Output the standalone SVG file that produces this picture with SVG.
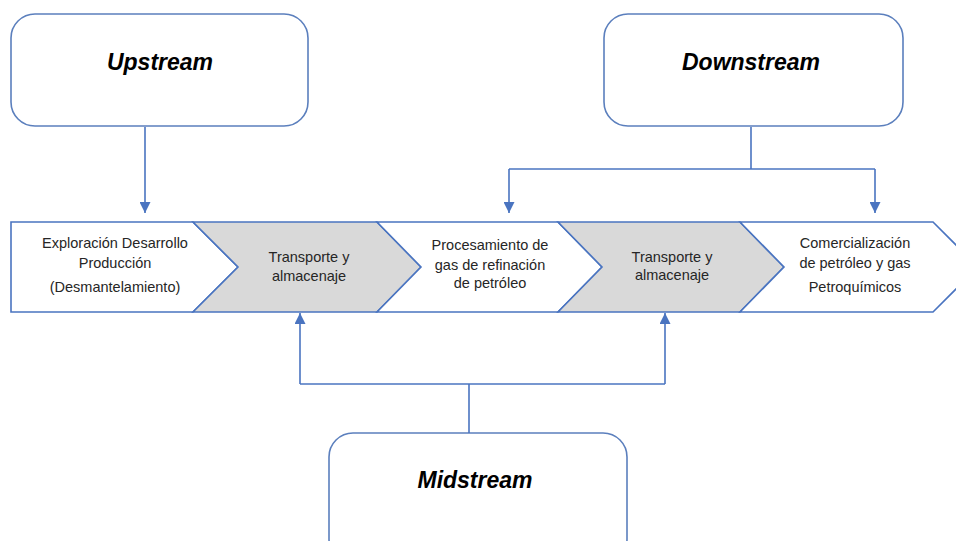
<svg xmlns="http://www.w3.org/2000/svg" width="956" height="541" viewBox="0 0 956 541">
<style>
.box{fill:#fff;stroke:#5b7fbd;stroke-width:1.6}
.title{font-family:"Liberation Sans",Arial,sans-serif;font-weight:bold;font-style:italic;font-size:23px;fill:#000;text-anchor:middle}
.seg{stroke:#4a74c0;stroke-width:1.6;stroke-linejoin:miter}
.w{fill:#fff}
.g{fill:#d9d9d9}
.lbl{font-family:"Liberation Sans",Arial,sans-serif;font-size:14.5px;fill:#262626;text-anchor:middle}
.conn{fill:none;stroke:#4a74c0;stroke-width:1.6}
</style>
<defs>
<marker id="ah" viewBox="0 0 10 10" refX="10" refY="5" markerWidth="11" markerHeight="11" markerUnits="userSpaceOnUse" orient="auto">
<path d="M0,0 L10,5 L0,10 Z" fill="#4a74c0"/>
</marker>
</defs>
<rect width="956" height="541" fill="#fff"/>

<g id="upstream">
<rect class="box" x="11" y="14" width="297" height="112" rx="24"/>
<text class="title" x="160" y="70">Upstream</text>
</g>
<g id="downstream">
<rect class="box" x="604" y="14" width="299" height="112" rx="24"/>
<text class="title" x="751" y="70">Downstream</text>
</g>
<g id="midstream">
<rect class="box" x="329" y="433" width="298" height="130" rx="24"/>
<text class="title" x="475" y="488">Midstream</text>
</g>

<g id="step1">
<path class="seg w" d="M11,222 L193,222 L238,267 L193,312 L11,312 Z"/>
<text class="lbl" x="115" y="248">Exploración Desarrollo</text>
<text class="lbl" x="115" y="268">Producción</text>
<text class="lbl" x="115" y="292">(Desmantelamiento)</text>
</g>
<g id="step2">
<path class="seg g" d="M193,222 L377,222 L421,267 L377,312 L193,312 L238,267 Z"/>
<text class="lbl" x="309" y="262">Transporte y</text>
<text class="lbl" x="309" y="281">almacenaje</text>
</g>
<g id="step3">
<path class="seg w" d="M377,222 L558,222 L602,267 L558,312 L377,312 L421,267 Z"/>
<text class="lbl" x="490" y="250">Procesamiento de</text>
<text class="lbl" x="490" y="270">gas de refinación</text>
<text class="lbl" x="490" y="288">de petróleo</text>
</g>
<g id="step4">
<path class="seg g" d="M558,222 L740,222 L784,267 L740,312 L558,312 L602,267 Z"/>
<text class="lbl" x="672" y="262">Transporte y</text>
<text class="lbl" x="672" y="280">almacenaje</text>
</g>
<g id="step5">
<path class="seg w" d="M740,222 L933,222 L978,267 L933,312 L740,312 L784,267 Z"/>
<text class="lbl" x="855" y="248">Comercialización</text>
<text class="lbl" x="855" y="268">de petróleo y gas</text>
<text class="lbl" x="855" y="292">Petroquímicos</text>
</g>

<g id="connectors">
<path class="conn" d="M145,127 L145,213" marker-end="url(#ah)"/>
<path class="conn" d="M751,127 L751,169"/>
<path class="conn" d="M509,169 L875,169"/>
<path class="conn" d="M509,169 L509,213" marker-end="url(#ah)"/>
<path class="conn" d="M875,169 L875,213" marker-end="url(#ah)"/>
<path class="conn" d="M469,433 L469,384"/>
<path class="conn" d="M300,384 L665,384"/>
<path class="conn" d="M300,384 L300,313" marker-end="url(#ah)"/>
<path class="conn" d="M665,384 L665,313" marker-end="url(#ah)"/>
</g>
</svg>
